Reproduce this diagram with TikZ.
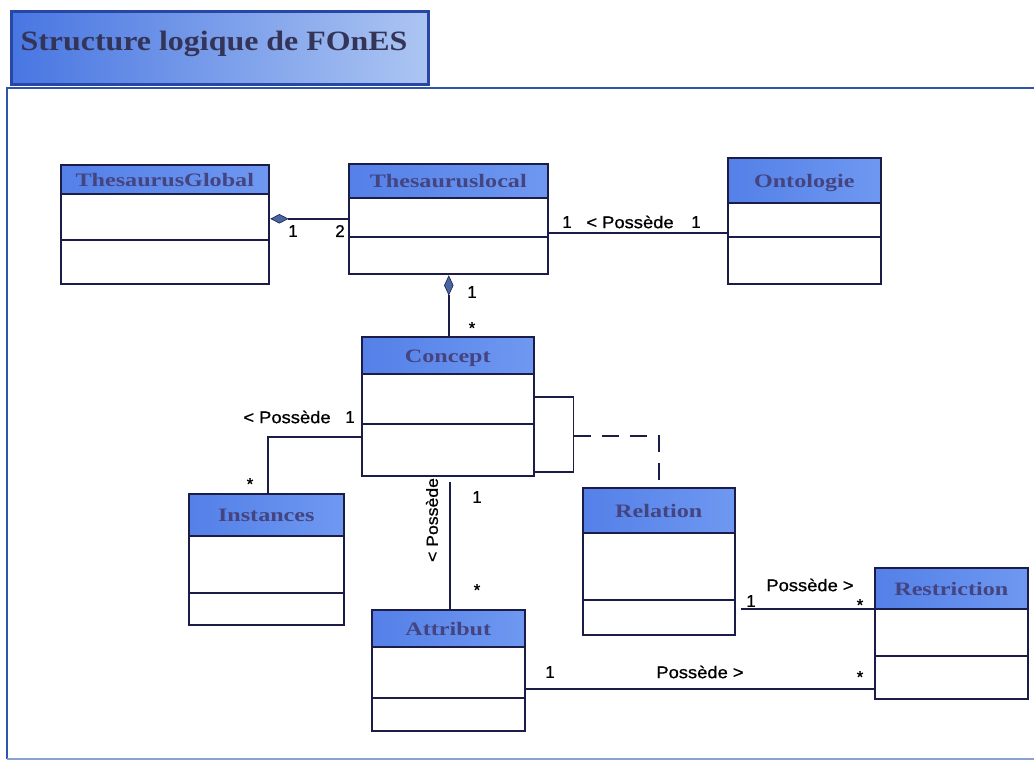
\documentclass[tikz,border=0pt]{standalone}
\usepackage{fontspec}
\setmainfont{Liberation Serif}
\newfontfamily\labelfont[FakeBold=0.8]{Liberation Sans}
\usetikzlibrary{shapes.geometric,calc}

\definecolor{headleft}{RGB}{84,128,232}
\definecolor{headright}{RGB}{110,152,240}
\definecolor{titleleft}{RGB}{72,118,226}
\definecolor{titleright}{RGB}{172,197,242}
\definecolor{titleedge}{RGB}{40,70,165}
\definecolor{nametext}{RGB}{68,68,128}
\definecolor{titletext}{RGB}{52,52,88}
\definecolor{umlline}{RGB}{28,28,72}
\definecolor{framecol}{RGB}{45,85,170}
\definecolor{diamondfill}{RGB}{72,102,162}

\tikzset{
  classbox/.style={draw=umlline, line width=1.6pt, fill=white, inner sep=0pt, anchor=north west},
  classhead/.style={draw=umlline, line width=1.6pt, left color=headleft, right color=headright,
                    inner sep=0pt, anchor=north west},
  classname/.style={font=\fontsize{19}{21}\selectfont\bfseries, text=nametext, inner sep=0pt},
  umlline/.style={draw=umlline, line width=1.6pt},
  assoc/.style={umlline, line cap=butt},
  lbl/.style={font=\labelfont\fontsize{17}{19}\selectfont, text=black, inner sep=0pt},
  compo/.style={diamond, draw=umlline, line width=0.6pt, fill=diamondfill, inner sep=0pt},
  framebar/.style={draw=framecol, line width=2.8pt},
}

% one UML class: name, left, top, right, header bottom, separator, bottom, title
\newcommand\umlclass[8]{%
  \node[classbox, minimum width={(#4-#2)*1pt}, minimum height={(#7-#3)*1pt}] (#1) at (#2,#3) {};
  \node[classhead, minimum width={(#4-#2)*1pt}, minimum height={(#5-#3)*1pt}] (#1-head) at (#2,#3) {};
  \node[classname, anchor=base] (#1-name) at ($(#1-head.center)+(0,7)$) {\scalebox{1.27}[1]{#8}};
  \draw[umlline] (#2,#6) -- (#4,#6);
}

\begin{document}
\begin{tikzpicture}[x=1pt,y=-1pt]
  \useasboundingbox (0,0) rectangle (1034,762);
  \fill[white] (0,0) rectangle (1034,762);

  % outer frame
  \draw[framebar] (1034,88) -- (7,88) -- (7,759);
  \draw[framebar, draw=framecol!55] (7,759) -- (1034,759);

  % title tab
  \node[draw=titleedge, line width=2.8pt, left color=titleleft, right color=titleright,
        minimum width=417pt, minimum height=73pt, anchor=north west, inner sep=0pt]
        (titlebox) at (10,10) {};
  \node[font=\fontsize{28}{30}\selectfont\bfseries, text=titletext, anchor=base, inner sep=0pt]
        (title) at (214,51) {\scalebox{1.14}[1]{Structure logique de FOnES}};

  % classes
  \umlclass{tg}{60}{164}{268}{193}{240}{283}{ThesaurusGlobal}
  \umlclass{tl}{348}{163}{547}{197}{237}{273}{Thesauruslocal}
  \umlclass{onto}{727}{157}{880}{202}{237}{283}{Ontologie}
  \umlclass{concept}{361}{336}{533}{373}{424}{475}{Concept}
  \umlclass{inst}{188}{493}{343}{535}{593}{624}{Instances}
  \umlclass{attr}{371}{609}{524}{646}{698}{730}{Attribut}
  \umlclass{rel}{582}{487}{734}{532}{600}{634}{Relation}
  \umlclass{restr}{874}{567}{1027}{608}{656}{698}{Restriction}

  % ThesaurusGlobal <>-- Thesauruslocal
  \node[compo, minimum width=17pt, minimum height=9pt, anchor=west] (d1)
        at ($(tg.east |- tl.west)+(1,0)$) {};
  \draw[assoc] (d1.east) -- (tl.west);
  \node[lbl] (m1) at (293,231) {1};
  \node[lbl] (m2) at (340,231) {2};

  % Thesauruslocal -- Ontologie
  \coordinate (tlo) at ([yshift=-14pt]tl.east);
  \draw[assoc] (tlo) -- (tlo -| onto.west);
  \node[lbl] (m3) at (567,222) {1};
  \node[lbl] (p1) at (630,222) {\scalebox{1.08}[1]{< Possède}};
  \node[lbl] (m4) at (696,222) {1};

  % Thesauruslocal <>-- Concept
  \node[compo, minimum width=9pt, minimum height=19pt, anchor=north] (d2)
        at ($(tl.south)+(0.5,1)$) {};
  \draw[assoc] (d2.south) -- (d2.south |- concept.north);
  \node[lbl] (m5) at (472,292) {1};
  \node[lbl] (m6) at (472,328) {*};

  % reflexive association on Concept with its association class
  \draw[umlline] ([yshift=9.5pt]concept.east) -- ++(39,0) coordinate (loopa)
        |- ([yshift=-65.5pt]concept.east);
  \coordinate (loopmid) at ($(loopa)+(0,39)$);
  \draw[umlline, dash pattern=on 17pt off 11pt] (loopmid) -| (rel.north);

  % Concept -- Instances
  \draw[assoc] ([yshift=-30.5pt]concept.west) -| ($(inst.north)+(1.5,0)$);
  \node[lbl] (p2) at (287,417) {\scalebox{1.08}[1]{< Possède}};
  \node[lbl] (m7) at (350,417) {1};
  \node[lbl] (m8) at (250,484) {*};

  % Concept -- Attribut
  \draw[assoc] ($(concept.south)+(2,5)$) -- ($(attr.north)+(1.5,0)$);
  \node[lbl, rotate=90] (p3) at (432,520) {\scalebox{1.04}[0.95]{< Possède}};
  \node[lbl] (m9) at (477,497) {1};
  \node[lbl] (m10) at (477,590) {*};

  % Relation -- Restriction
  \coordinate (rr) at ([yshift=24.5pt]restr.west);
  \draw[assoc] ($(rr -| rel.east)+(5,0)$) -- (rr);
  \node[lbl] (m11) at (751,601) {1};
  \node[lbl] (p4) at (810,585) {\scalebox{1.08}[1]{Possède >}};
  \node[lbl] (m12) at (860,605) {*};

  % Attribut -- Restriction
  \coordinate (ar) at ([yshift=-18.5pt]attr.east);
  \draw[assoc] (ar) -- (ar -| restr.west);
  \node[lbl] (m13) at (550,672) {1};
  \node[lbl] (p5) at (700,672) {\scalebox{1.08}[1]{Possède >}};
  \node[lbl] (m14) at (860,677) {*};
\end{tikzpicture}
\end{document}
